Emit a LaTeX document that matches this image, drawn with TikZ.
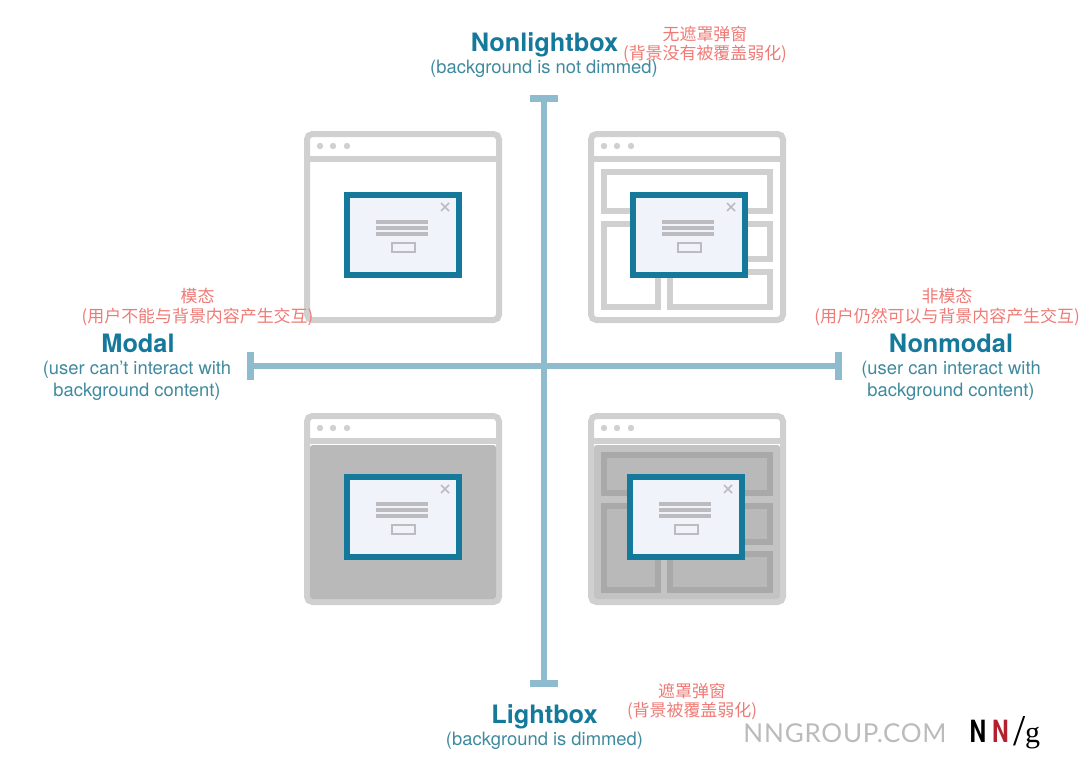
\documentclass[tikz,border=0pt]{standalone}
\usepackage{fontspec}
\usetikzlibrary{arrows.meta}
\setmainfont{TeX Gyre Heros}
\newfontfamily\cjkfont{Noto Sans CJK SC}
\newfontfamily\nnfont[LetterSpace=3]{Lato}
\newfontfamily\logofont{Liberation Serif}
\definecolor{teal}{HTML}{15799B}
\definecolor{subteal}{HTML}{3F8A9E}
\definecolor{axisblue}{HTML}{8FBBCF}
\definecolor{cnred}{HTML}{EE7A76}
\definecolor{framegray}{HTML}{D0D0D0}
\definecolor{dimgray}{HTML}{B9B9B9}
\definecolor{panelgray}{HTML}{A9A9A9}
\definecolor{gapgray}{HTML}{C3C3C3}
\definecolor{dialogfill}{HTML}{F1F3FB}
\definecolor{linegray}{HTML}{BBBBC0}
\definecolor{nnred}{HTML}{B5202E}
\tikzset{
  heading/.style={font=\fontsize{19pt}{22pt}\selectfont\bfseries,text=teal},
  subtext/.style={font=\fontsize{13.8pt}{16.5pt}\selectfont,text=subteal,align=center},
  cnnote/.style={font=\cjkfont\fontsize{12.7pt}{14.6pt}\selectfont,text=cnred,align=center},
  nnletter/.style={font=\fontsize{23pt}{25pt}\selectfont\bfseries,xscale=0.75},
  axisline/.style={draw=axisblue,line width=4.5pt,
    {Bar[width=21pt,line width=5pt]}-{Bar[width=21pt,line width=5pt]},shorten <=0pt,shorten >=0pt},
  frameline/.style={draw=framegray,line width=4.5pt},
  panel/.style={draw=framegray,line width=4.5pt},
  darkpanel/.style={draw=panelgray,fill=dimgray,line width=4.5pt},
  pics/browser/.style={code={
    \draw[frameline,rounded corners=4pt] (3,3) rectangle (195,189);
    \draw[frameline] (3,28) -- (195,28);
    \foreach \px in {16,29,43}
      \fill[framegray] (\px,15) circle (2.4pt);
  }},
  pics/popup/.style={code={
    \draw[draw=teal,fill=dialogfill,line width=4.5pt] (3,3) rectangle (115,83);
    \draw[linegray,line width=1.1pt] (97,11) -- (105,19) (105,11) -- (97,19);
    \foreach \py in {30,36,42}
      \draw[linegray,line width=2.8pt] (32,\py) -- (84,\py);
    \draw[linegray,line width=1.5pt] (48,51) rectangle (71,60);
  }}
}
\begin{document}
\begin{tikzpicture}[x=0.75pt,y=-0.75pt]
  \useasboundingbox (0,0) rectangle (1080,774);

  % axes
  \coordinate (top) at (544,95);
  \coordinate (bottom) at (544,687);
  \coordinate (left) at (247,366);
  \coordinate (right) at (842,366);
  \draw[axisline] (top) -- (bottom);
  \draw[axisline] (left) -- (right);

  % top left
  \pic at (304,131) {browser};
  \pic at (344,192) {popup};

  % top right
  \pic at (588,131) {browser};
  \draw[panel] (604,172) rectangle (770,211);
  \draw[panel] (604,224) rectangle (658,307);
  \draw[panel] (670,224) rectangle (770,259);
  \draw[panel] (670,272) rectangle (770,307);
  \pic at (630,192) {popup};

  % bottom left
  \pic at (304,413) {browser};
  \fill[dimgray,rounded corners=2pt] (310,445) rectangle (496,599);
  \pic at (344,474) {popup};

  % bottom right
  \pic at (588,413) {browser};
  \fill[gapgray,rounded corners=2pt] (594,445) rectangle (780,599);
  \draw[darkpanel] (604,455) rectangle (770,493);
  \draw[darkpanel] (604,506) rectangle (658,590);
  \draw[darkpanel] (670,506) rectangle (770,542);
  \draw[darkpanel] (670,554) rectangle (770,590);
  \pic at (627,474) {popup};

  % labels
  \node[heading] at (544.5,44.5) (nonlightbox) {Nonlightbox};
  \node[subtext] at (544,69) (nonlightboxsub) {(background is not dimmed)};
  \node[cnnote] at (705,44.5) (nonlightboxcn) {无遮罩弹窗\\(背景没有被覆盖弱化)};
  \node[heading] at (138,343) (modal) {Modal};
  \node[subtext] at (137,381) (modalsub) {(user can’t interact with\\background content)};
  \node[cnnote] at (197.5,307) (modalcn) {模态\\(用户不能与背景内容产生交互)};
  \node[heading] at (951,343) (nonmodal) {Nonmodal};
  \node[subtext] at (951,381) (nonmodalsub) {(user can interact with\\background content)};
  \node[cnnote] at (947,307) (nonmodalcn) {非模态\\(用户仍然可以与背景内容产生交互)};
  \node[heading] at (544.5,716.5) (lightbox) {Lightbox};
  \node[subtext] at (544.5,741) (lightboxsub) {(background is dimmed)};
  \node[cnnote] at (692,701.5) (lightboxcn) {遮罩弹窗\\(背景被覆盖弱化)};

  % logo
  \node[font=\nnfont\fontsize{19.5pt}{22pt}\selectfont,text=framegray!90!black] at (845,733) (site) {NNGROUP.COM};
  \node[nnletter] at (978,731.5) (nn1) {N};
  \node[nnletter,text=nnred] at (1000.5,731.5) (nn2) {N};
  \node[font=\logofont\fontsize{33pt}{35pt}\selectfont] at (1019.5,731) (slash) {/};
  \node[font=\logofont\fontsize{22.5pt}{25pt}\selectfont] at (1032.5,738) (gee) {g};
\end{tikzpicture}
\end{document}
